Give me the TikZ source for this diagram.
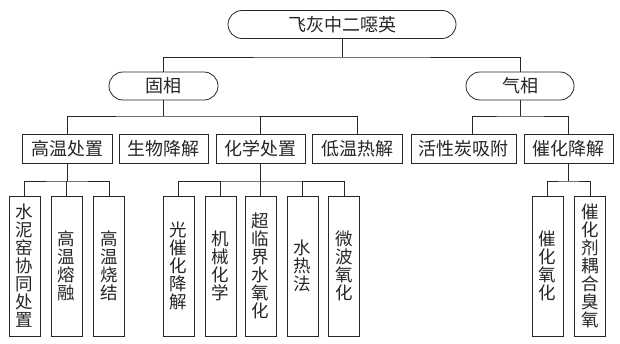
\documentclass[tikz,border=0pt]{standalone}
\usepackage{fontspec}
\newfontfamily\cjk{Noto Sans CJK SC}
\begin{document}
\begin{tikzpicture}[x=1pt,y=-1pt,
  ln/.style={draw=black!85, line width=0.8pt},
  base/.style={ln, inner sep=0pt, text=black!85, font=\cjk\fontsize{18}{18}\selectfont},
  rbox/.style={base, rounded corners=14pt, minimum height=28pt},
  sbox/.style={base, minimum height=29pt},
  vbox/.style={base, minimum width=31pt, minimum height=140pt, align=center, font=\cjk\fontsize{17.5}{18}\selectfont}
]
\useasboundingbox (0,0) rectangle (620,343);
% level 0
\node[rbox, minimum width=228pt] (top) at (342,24.5) {飞灰中二噁英};
% level 1
\node[rbox, minimum width=109pt] (gu) at (163.5,86) {固相};
\node[rbox, minimum width=108pt] (qi) at (520,86) {气相};
% level 2
\node[sbox, minimum width=90pt]  (gw)  at (67,148.5)    {高温处置};
\node[sbox, minimum width=89pt]  (sw)  at (163.5,148.5) {生物降解};
\node[sbox, minimum width=89pt]  (hx)  at (260.5,148.5) {化学处置};
\node[sbox, minimum width=90pt]  (dw)  at (357,148.5)   {低温热解};
\node[sbox, minimum width=105pt] (hxt) at (463.5,148.5) {活性炭吸附};
\node[sbox, minimum width=89pt]  (ch)  at (568.5,148.5) {催化降解};
% level 3
\node[vbox] (a1) at (24.5,266) {水\\泥\\窑\\协\\同\\处\\置};
\node[vbox] (a2) at (66.5,266) {高\\温\\熔\\融};
\node[vbox] (a3) at (109,266)  {高\\温\\烧\\结};
\node[vbox] (b1) at (178.5,266) {光\\催\\化\\降\\解};
\node[vbox] (b2) at (220.5,266) {机\\械\\化\\学};
\node[vbox] (b3) at (260.5,266) {超\\临\\界\\水\\氧\\化};
\node[vbox] (b4) at (302.5,266) {水\\热\\法};
\node[vbox] (b5) at (344,266)   {微\\波\\氧\\化};
\node[vbox] (c1) at (547.5,266) {催\\化\\氧\\化};
\node[vbox] (c2) at (590,266)   {催\\化\\剂\\耦\\合\\臭\\氧};
% junctions
\coordinate (j0) at (342,57);
\coordinate (j1) at (163.5,116);
\coordinate (j2) at (520,116);
\coordinate (h2) at (472,134);
\coordinate (j3) at (67,181);
\coordinate (j4) at (260.5,181);
\coordinate (j5) at (568.5,181);
% connectors
\draw[ln] (top.south) -- (j0);
\draw[ln] (gu.north) |- (j0) -| (qi.north);
\draw[ln] (gu.south) -- (j1);
\draw[ln] (gw.north) |- (j1) -| (dw.north);
\draw[ln] (hx.north) -- (hx.north |- j1);
\draw[ln] (qi.south) -- (j2);
\draw[ln] (h2) |- (j2) -| (ch.north);
\draw[ln] (gw.south) -- (j3);
\draw[ln] (a1.north) |- (j3) -| (a3.north);
\draw[ln] (a2.north) -- (a2.north |- j3);
\draw[ln] (hx.south) -- (j4);
\draw[ln] (b1.north) |- (j4) -| (b5.north);
\draw[ln] (b2.north) -- (b2.north |- j4);
\draw[ln] (b3.north) -- (b3.north |- j4);
\draw[ln] (b4.north) -- (b4.north |- j4);
\draw[ln] (ch.south) -- (j5);
\draw[ln] (c1.north) |- (j5) -| (c2.north);
\end{tikzpicture}
\end{document}
